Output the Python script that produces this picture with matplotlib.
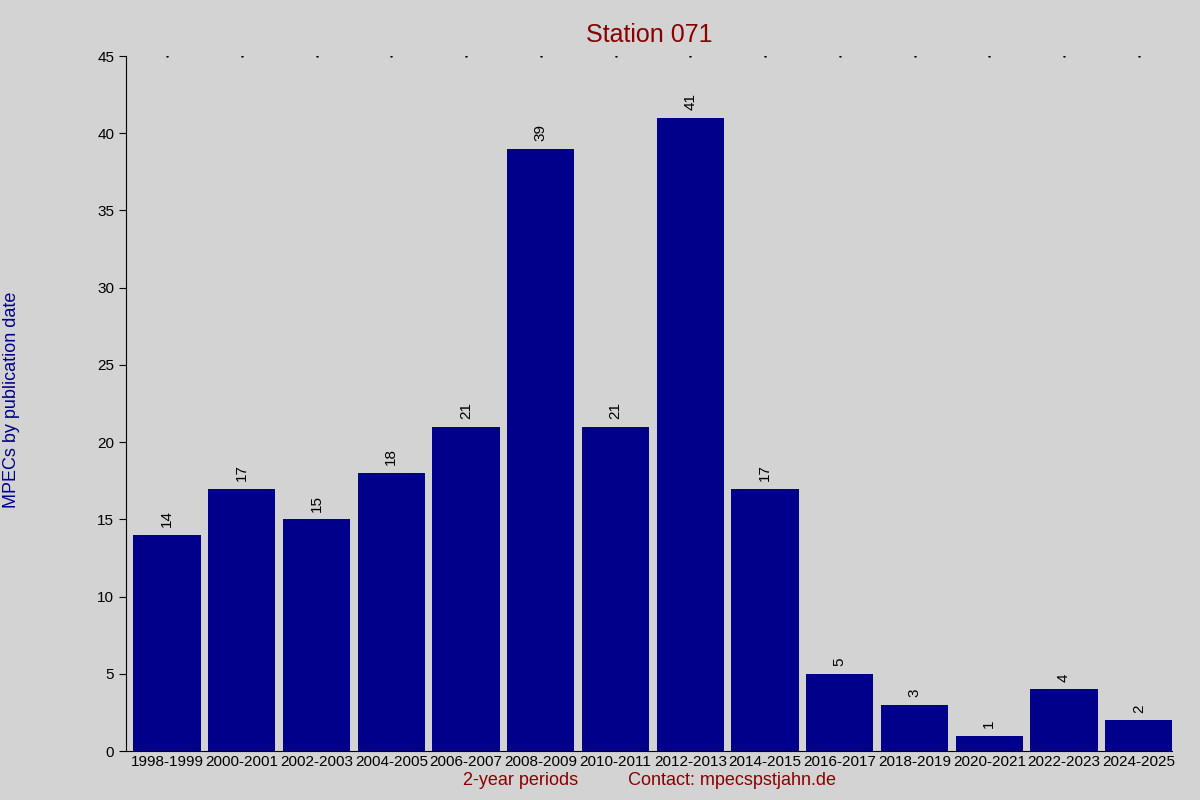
import matplotlib
matplotlib.use("Agg")
import matplotlib.pyplot as plt

periods = ['1998-1999', '2000-2001', '2002-2003', '2004-2005', '2006-2007',
           '2008-2009', '2010-2011', '2012-2013', '2014-2015', '2016-2017',
           '2018-2019', '2020-2021', '2022-2023', '2024-2025']
counts = [14, 17, 15, 18, 21, 39, 21, 41, 17, 5, 3, 1, 4, 2]

plt.rcParams['font.family'] = ['Liberation Sans', 'DejaVu Sans']

fig = plt.figure(figsize=(12, 8), dpi=100, facecolor='#d3d3d3')
ax = fig.add_axes([0.105, 0.061, 0.872, 0.869])
ax.set_facecolor('#d3d3d3')

x = range(len(periods))
ax.bar(x, counts, width=0.9, color='#00008b')
for i, c in zip(x, counts):
    ax.text(i, c + 0.5, str(c), rotation=90, ha='center', va='bottom', fontsize=11)

# small dots along the top
ax.plot(list(x), [45] * len(periods), linestyle='none', marker='.', markersize=1.5, color='black')

ax.set_xlim(-0.55, 13.45)
ax.set_ylim(0, 45)
ax.set_yticks(range(0, 46, 5))
ax.set_xticks(list(x))
ax.set_xticklabels(periods, fontsize=11)
ax.tick_params(axis='y', labelsize=11, direction='out', length=5)
ax.tick_params(axis='x', length=0, pad=3)
for s in ['top', 'right']:
    ax.spines[s].set_visible(False)

ax.set_title('Station 071', color='#8b0000', fontsize=18, pad=10)
ax.set_xlabel('2-year periods          Contact: mpecspstjahn.de', color='#8b0000',
              fontsize=13, labelpad=2)
fig.text(0.01, 0.5, 'MPECs by publication date', rotation=90, color='#00008b',
         fontsize=13, va='center', ha='center')

fig.savefig('out.png', dpi=100, facecolor='#d3d3d3')
